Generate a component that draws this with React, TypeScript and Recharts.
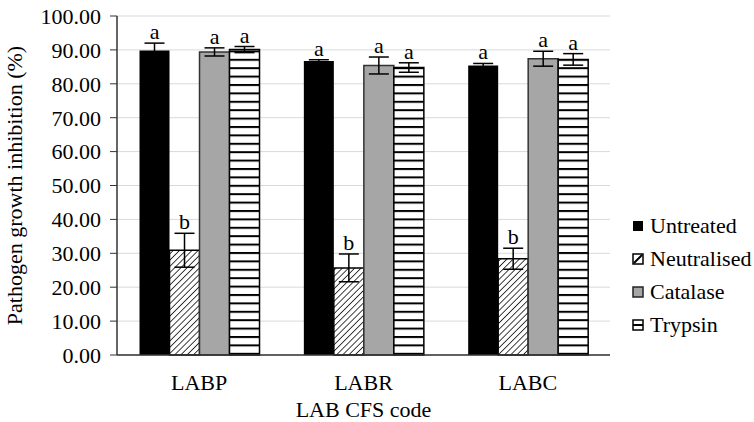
import { BarChart, Bar, XAxis, YAxis, CartesianGrid, ErrorBar, LabelList, Label } from "recharts";

const categories = ["LABP", "LABR", "LABC"];
const untreated = [89.8, 86.7, 85.4];
const untreatedErr = [2.2, 0.4, 0.6];
const neutralised = [30.9, 25.7, 28.4];
const neutralisedErr = [5.0, 4.1, 3.1];
const catalase = [89.4, 85.4, 87.4];
const catalaseErr = [1.2, 2.5, 2.2];
const trypsin = [90.1, 84.8, 87.2];
const trypsinErr = [0.9, 1.4, 1.7];
const untreatedSig = ["a", "a", "a"];
const neutralisedSig = ["b", "b", "b"];
const catalaseSig = ["a", "a", "a"];
const trypsinSig = ["a", "a", "a"];
const yTicks = [0, 10, 20, 30, 40, 50, 60, 70, 80, 90, 100];

const data = categories.map((c, i) => ({
  code: c,
  untreated: untreated[i],
  uErr: untreatedErr[i],
  neutralised: neutralised[i],
  nErr: neutralisedErr[i],
  catalase: catalase[i],
  cErr: catalaseErr[i],
  trypsin: trypsin[i],
  tErr: trypsinErr[i],
}));

const font = "Liberation Serif";
const fs = 22;

// letter above the error bar cap
const sigLabel = (errs: number[], sig: string[]) => (p: any) => {
  const { x, y, width, height, value, index } = p;
  const errPx = (errs[index] * height) / value;
  return (
    <text
      x={x + width / 2}
      y={y - errPx - 4}
      textAnchor="middle"
      fontSize={fs}
      fontFamily={font}
      fill="#000"
    >
      {sig[index]}
    </text>
  );
};

const legendItems = [
  { name: "Untreated", kind: "black" },
  { name: "Neutralised", kind: "hatch" },
  { name: "Catalase", kind: "gray" },
  { name: "Trypsin", kind: "stripe" },
];

function Swatch({ kind }: { kind: string }) {
  return (
    <svg width={12} height={12} style={{ marginRight: 6 }}>
      {kind === "black" && <rect x={1} y={1} width={10} height={10} fill="#000" />}
      {kind === "gray" && (
        <rect x={1} y={1} width={10} height={10} fill="#a6a6a6" stroke="#222" strokeWidth={1.5} />
      )}
      {kind === "hatch" && (
        <g>
          <rect x={1} y={1} width={10} height={10} fill="#fff" stroke="#000" strokeWidth={1.5} />
          <line x1={2} y1={10} x2={10} y2={2} stroke="#000" strokeWidth={2} />
        </g>
      )}
      {kind === "stripe" && (
        <g>
          <rect x={1} y={1} width={10} height={10} fill="#fff" stroke="#000" strokeWidth={1.5} />
          <line x1={1} y1={6} x2={11} y2={6} stroke="#000" strokeWidth={2} />
        </g>
      )}
    </svg>
  );
}

function LegendBox() {
  return (
    <div
      style={{
        position: "absolute",
        left: 632,
        top: 209,
        fontFamily: font,
        fontSize: fs,
        color: "#000",
      }}
    >
      {legendItems.map((it) => (
        <div key={it.name} style={{ display: "flex", alignItems: "center", height: 33 }}>
          <Swatch kind={it.kind} />
          <span>{it.name}</span>
        </div>
      ))}
    </div>
  );
}

export default function App() {
  return (
    <div style={{ position: "absolute", left: 0, top: 0, width: 754, height: 422, background: "#fff" }}>
      <BarChart
        width={754}
        height={422}
        data={data}
        margin={{ top: 16, right: 144, left: 0, bottom: 0 }}
        barCategoryGap="13.7%"
        barGap={0}
      >
        <defs>
          <pattern id="hatch" width="4.4" height="4.4" patternUnits="userSpaceOnUse" patternTransform="rotate(45)">
            <rect width="4.4" height="4.4" fill="#fff" />
            <line x1="0" y1="0" x2="0" y2="4.4" stroke="#000" strokeWidth="1.5" />
          </pattern>
          <pattern id="stripe" width="8.4" height="8.4" patternUnits="userSpaceOnUse">
            <rect width="8.4" height="8.4" fill="#fff" />
            <line x1="0" y1="1" x2="8.4" y2="1" stroke="#000" strokeWidth="2" />
          </pattern>
        </defs>
        <CartesianGrid stroke="#d9d9d9" vertical={false} />
        <XAxis
          dataKey="code"
          height={67}
          tickLine={false}
          axisLine={{ stroke: "#333", strokeWidth: 1.5 }}
          tick={{ fill: "#000", fontSize: fs, fontFamily: font }}
          tickMargin={13}
        >
          <Label
            value="LAB CFS code"
            position="insideBottom"
            offset={5}
            style={{ fill: "#000", fontSize: fs, fontFamily: font }}
          />
        </XAxis>
        <YAxis
          width={117}
          domain={[0, 100]}
          ticks={yTicks}
          interval={0}
          tickFormatter={(v: number) => v.toFixed(2)}
          tickSize={7}
          tickMargin={9}
          tickLine={{ stroke: "#333" }}
          axisLine={{ stroke: "#333", strokeWidth: 1.5 }}
          tick={{ fill: "#000", fontSize: fs, fontFamily: font }}
        >
          <Label
            value="Pathogen growth inhibition (%)"
            angle={-90}
            position="insideLeft"
            offset={14}
            style={{ textAnchor: "middle", fill: "#000", fontSize: fs, fontFamily: font }}
          />
        </YAxis>
        <Bar dataKey="untreated" name="Untreated" fill="#000" isAnimationActive={false}>
          <ErrorBar dataKey="uErr" width={10} stroke="#000" strokeWidth={1.5} direction="y" />
          <LabelList dataKey="untreated" content={sigLabel(untreatedErr, untreatedSig)} />
        </Bar>
        <Bar dataKey="neutralised" name="Neutralised" fill="url(#hatch)" stroke="#000" strokeWidth={1.5} isAnimationActive={false}>
          <ErrorBar dataKey="nErr" width={10} stroke="#000" strokeWidth={1.5} direction="y" />
          <LabelList dataKey="neutralised" content={sigLabel(neutralisedErr, neutralisedSig)} />
        </Bar>
        <Bar dataKey="catalase" name="Catalase" fill="#a6a6a6" stroke="#333" strokeWidth={1.5} isAnimationActive={false}>
          <ErrorBar dataKey="cErr" width={10} stroke="#000" strokeWidth={1.5} direction="y" />
          <LabelList dataKey="catalase" content={sigLabel(catalaseErr, catalaseSig)} />
        </Bar>
        <Bar dataKey="trypsin" name="Trypsin" fill="url(#stripe)" stroke="#000" strokeWidth={1.5} isAnimationActive={false}>
          <ErrorBar dataKey="tErr" width={10} stroke="#000" strokeWidth={1.5} direction="y" />
          <LabelList dataKey="trypsin" content={sigLabel(trypsinErr, trypsinSig)} />
        </Bar>
      </BarChart>
      <LegendBox />
    </div>
  );
}
